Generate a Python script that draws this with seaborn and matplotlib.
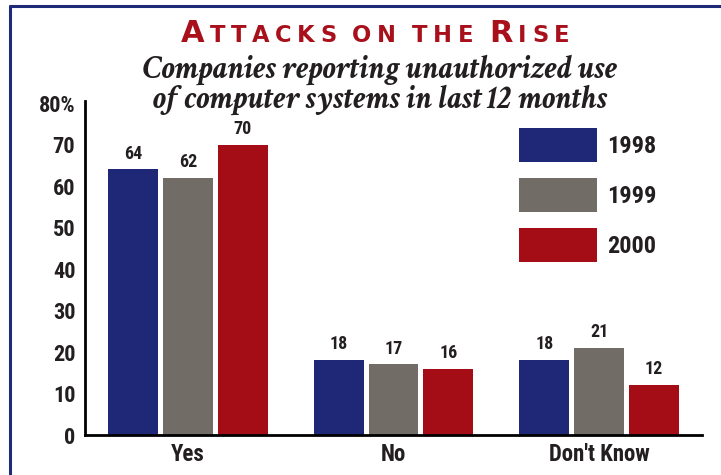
import matplotlib
matplotlib.use("Agg")
import matplotlib.pyplot as plt
import seaborn as sns
import pandas as pd
from matplotlib import font_manager
from matplotlib.offsetbox import TextArea, HPacker, AnchoredOffsetbox
from matplotlib.lines import Line2D

categories = ["Yes", "No", "Don't Know"]
years = ["1998", "1999", "2000"]
values_1998 = [64, 18, 18]
values_1999 = [62, 17, 21]
values_2000 = [70, 16, 12]
colors = ["#1E2876", "#716C66", "#A50D16"]
yticks = [0, 10, 20, 30, 40, 50, 60, 70, 80]
ytick_labels = ["0", "10", "20", "30", "40", "50", "60", "70", "80%"]
title_text = "Attacks on the Rise"
subtitle_lines = ["Companies reporting unauthorized use",
                  "of computer systems in last 12 months"]

flist = font_manager.fontManager.ttflist
names = {f.name for f in flist}
def pick(*cands):
    for c in cands:
        if c in names:
            return c
    return "DejaVu Sans"
def pick_bold_italic(*cands):
    for c in cands:
        for f in flist:
            try:
                w = int(f.weight)
            except (TypeError, ValueError):
                w = 700 if "bold" in str(f.weight).lower() else 400
            if f.name == c and f.style == "italic" and w >= 600:
                return c
    return "DejaVu Serif"
cond = pick("Roboto Condensed", "Archivo Narrow", "PT Sans Narrow", "Open Sans Condensed")
serif = pick_bold_italic("EB Garamond", "Cormorant Garamond", "Crimson Text",
                         "Crimson Pro", "Liberation Serif")

rows = []
for yr, vals in zip(years, [values_1998, values_1999, values_2000]):
    for c, v in zip(categories, vals):
        rows.append({"category": c, "year": yr, "value": v})
df = pd.DataFrame(rows)

sns.set_theme(style="white")
plt.rcParams["font.family"] = [cond, "DejaVu Sans"]

ink = "#231F20"
fig = plt.figure(figsize=(7.21, 4.75), dpi=100)
ax = fig.add_axes([85/721, 40/475, 617/721, 334/475])

sns.barplot(data=df, x="category", y="value", hue="year", hue_order=years,
            order=categories, palette=colors, width=0.8, gap=0.09,
            saturation=1, ax=ax, linewidth=0)

ax.set_xlim(-0.5, 2.5)
ax.set_ylim(0, 80.5)
ax.set_yticks(yticks)
ax.set_yticklabels(ytick_labels, fontsize=16, fontweight="bold", color=ink)
ax.tick_params(axis="y", length=0, pad=7)
ax.tick_params(axis="x", length=0, pad=6, labelsize=16.5, labelcolor=ink)
for lab in ax.get_xticklabels():
    lab.set_fontweight("bold")
ax.set_xlabel("")
ax.set_ylabel("")
for s in ["top", "right"]:
    ax.spines[s].set_visible(False)
for s in ["left", "bottom"]:
    ax.spines[s].set_color("black")
    ax.spines[s].set_linewidth(2)

for cont in ax.containers:
    ax.bar_label(cont, padding=5, fontsize=13, fontweight="bold", color=ink)

handles, labels = ax.get_legend_handles_labels()
ax.legend(handles, labels, loc="upper left", bbox_to_anchor=(519/721, 1 - 128/475),
          bbox_transform=fig.transFigure, frameon=False, borderpad=0,
          prop={"family": cond, "weight": "bold", "size": 17.5},
          handlelength=3.2, handleheight=1.77, labelspacing=0.66,
          handletextpad=0.42, borderaxespad=0)
for t in ax.get_legend().get_texts():
    t.set_color(ink)

# Title in small caps with letter spacing
red = "#A8101C"
areas = []
for word in title_text.split(" "):
    for i, ch in enumerate(word):
        big = (i == 0 and ch.isupper())
        areas.append(TextArea(ch.upper(), textprops=dict(
            fontsize=22 if big else 16.3, fontweight="bold", color=red,
            family="DejaVu Sans")))
    areas.append(TextArea(" ", textprops=dict(fontsize=10, fontweight="bold",
                                               family="DejaVu Sans")))
areas = areas[:-1]
pack = HPacker(children=areas, align="baseline", pad=0, sep=4)
box = AnchoredOffsetbox(loc="center", child=pack, frameon=False,
                        bbox_to_anchor=(375/721, 1 - 33/475),
                        bbox_transform=fig.transFigure, pad=0, borderpad=0)
fig.add_artist(box)

for line, yc in zip(subtitle_lines, [70, 100]):
    fig.text(380/721, 1 - yc/475, line, ha="center", va="center",
             fontsize=23.5, fontweight="bold", fontstyle="italic",
             family=serif, color=ink)

navy = "#1F2A7A"
fig.add_artist(Line2D([9.5/721, 1], [1 - 6/475, 1 - 6/475], color=navy, lw=2.2,
                      transform=fig.transFigure))
fig.add_artist(Line2D([9.5/721, 9.5/721], [0, 1 - 6/475], color=navy, lw=2.2,
                      transform=fig.transFigure))

fig.savefig("out.png", dpi=100)
